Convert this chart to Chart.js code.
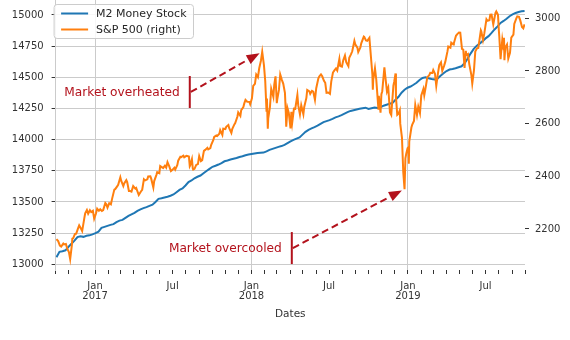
<!DOCTYPE html>
<html>
<head>
<meta charset="utf-8">
<script src="https://cdn.jsdelivr.net/npm/chart.js@4.4.0/dist/chart.umd.min.js"></script>
<style>
  body { margin: 0; background: #fff; }
</style>
</head>
<body>
<canvas id="m2Chart" width="570" height="340"></canvas>
<script>
// M2 money stock, weekly (billions of dollars), weeks starting 2016-10-03
var m2Start = '2016-10-03';
var m2Values = [
  13056, 13100, 13105, 13112, 13140, 13165, 13190, 13218, 13225, 13220,
  13228, 13232, 13240, 13250, 13262, 13292, 13300, 13308, 13316, 13322,
  13338, 13350, 13356, 13372, 13388, 13400, 13412, 13428, 13440, 13450,
  13458, 13468, 13478, 13500, 13525, 13530, 13536, 13542, 13550, 13560,
  13578, 13596, 13608, 13632, 13660, 13672, 13690, 13702, 13712, 13730,
  13748, 13765, 13782, 13790, 13800, 13812, 13826, 13832, 13840, 13846,
  13852, 13860, 13866, 13874, 13880, 13884, 13888, 13892, 13894, 13896,
  13906, 13918, 13926, 13934, 13942, 13948, 13958, 13972, 13986, 13998,
  14008, 14018, 14040, 14062, 14078, 14090, 14100, 14112, 14126, 14140,
  14148, 14156, 14166, 14178, 14186, 14196, 14208, 14220, 14230, 14236,
  14242, 14248, 14252, 14256, 14246, 14252, 14258, 14254, 14260, 14272,
  14280, 14288, 14294, 14320, 14344, 14376, 14400, 14416, 14426, 14440,
  14456, 14478, 14494, 14500, 14492, 14486, 14482, 14490, 14512, 14532,
  14550, 14562, 14566, 14572, 14580, 14588, 14612, 14648, 14690, 14726,
  14752, 14770, 14790, 14812, 14830, 14856, 14884, 14908, 14936, 14952,
  14970, 14990, 15004, 15016, 15024, 15030, 15032
];

// S&P 500 closes
var spDates = [
  '2016-10-03','2016-10-07','2016-10-11','2016-10-14','2016-10-19','2016-10-21','2016-10-25','2016-10-28',
  '2016-11-01','2016-11-04','2016-11-08','2016-11-09','2016-11-11','2016-11-15','2016-11-18','2016-11-23','2016-11-25','2016-11-30',
  '2016-12-02','2016-12-07','2016-12-09','2016-12-13','2016-12-16','2016-12-20','2016-12-23','2016-12-27','2016-12-30',
  '2017-01-03','2017-01-06','2017-01-10','2017-01-13','2017-01-17','2017-01-20','2017-01-25','2017-01-27','2017-01-30',
  '2017-02-03','2017-02-07','2017-02-10','2017-02-15','2017-02-17','2017-02-22','2017-02-24',
  '2017-03-01','2017-03-03','2017-03-08','2017-03-10','2017-03-15','2017-03-17','2017-03-21','2017-03-24','2017-03-27','2017-03-31',
  '2017-04-05','2017-04-07','2017-04-13','2017-04-18','2017-04-21','2017-04-25','2017-04-28',
  '2017-05-03','2017-05-05','2017-05-10','2017-05-12','2017-05-17','2017-05-19','2017-05-24','2017-05-26','2017-05-31',
  '2017-06-02','2017-06-07','2017-06-09','2017-06-13','2017-06-16','2017-06-19','2017-06-23','2017-06-27','2017-06-30',
  '2017-07-05','2017-07-07','2017-07-12','2017-07-14','2017-07-19','2017-07-21','2017-07-26','2017-07-28',
  '2017-08-02','2017-08-04','2017-08-08','2017-08-10','2017-08-11','2017-08-15','2017-08-17','2017-08-18','2017-08-21','2017-08-25','2017-08-29',
  '2017-09-01','2017-09-05','2017-09-08','2017-09-12','2017-09-15','2017-09-20','2017-09-22','2017-09-27','2017-09-29',
  '2017-10-04','2017-10-06','2017-10-11','2017-10-13','2017-10-18','2017-10-20','2017-10-25','2017-10-27',
  '2017-11-01','2017-11-03','2017-11-08','2017-11-10','2017-11-15','2017-11-17','2017-11-22','2017-11-24','2017-11-29',
  '2017-12-01','2017-12-06','2017-12-08','2017-12-13','2017-12-15','2017-12-18','2017-12-22','2017-12-27','2017-12-29',
  '2018-01-02','2018-01-05','2018-01-09','2018-01-12','2018-01-16','2018-01-19','2018-01-23','2018-01-26','2018-01-30',
  '2018-02-02','2018-02-05','2018-02-06','2018-02-08','2018-02-09','2018-02-13','2018-02-16','2018-02-21','2018-02-23','2018-02-26',
  '2018-03-01','2018-03-02','2018-03-06','2018-03-09','2018-03-13','2018-03-16','2018-03-20','2018-03-22','2018-03-23','2018-03-26','2018-03-29',
  '2018-04-02','2018-04-04','2018-04-06','2018-04-10','2018-04-13','2018-04-18','2018-04-20','2018-04-24','2018-04-27',
  '2018-05-02','2018-05-04','2018-05-09','2018-05-11','2018-05-16','2018-05-18','2018-05-22','2018-05-25','2018-05-29',
  '2018-06-01','2018-06-06','2018-06-08','2018-06-12','2018-06-15','2018-06-19','2018-06-22','2018-06-25','2018-06-29',
  '2018-07-03','2018-07-06','2018-07-10','2018-07-13','2018-07-17','2018-07-20','2018-07-25','2018-07-27','2018-07-31',
  '2018-08-03','2018-08-07','2018-08-10','2018-08-15','2018-08-17','2018-08-21','2018-08-24','2018-08-29','2018-08-31',
  '2018-09-05','2018-09-07','2018-09-12','2018-09-14','2018-09-20','2018-09-21','2018-09-25','2018-09-28',
  '2018-10-03','2018-10-05','2018-10-10','2018-10-11','2018-10-12','2018-10-16','2018-10-19','2018-10-24','2018-10-25','2018-10-29','2018-10-31',
  '2018-11-02','2018-11-07','2018-11-09','2018-11-13','2018-11-16','2018-11-20','2018-11-23','2018-11-28','2018-11-30',
  '2018-12-03','2018-12-04','2018-12-07','2018-12-10','2018-12-13','2018-12-14','2018-12-18','2018-12-21','2018-12-24','2018-12-26','2018-12-28','2018-12-31',
  '2019-01-02','2019-01-03','2019-01-04','2019-01-09','2019-01-11','2019-01-15','2019-01-18','2019-01-22','2019-01-25','2019-01-29',
  '2019-02-01','2019-02-06','2019-02-08','2019-02-12','2019-02-15','2019-02-20','2019-02-22','2019-02-27',
  '2019-03-01','2019-03-05','2019-03-08','2019-03-12','2019-03-15','2019-03-19','2019-03-22','2019-03-26','2019-03-29',
  '2019-04-03','2019-04-05','2019-04-10','2019-04-12','2019-04-17','2019-04-18','2019-04-23','2019-04-26','2019-04-30',
  '2019-05-03','2019-05-07','2019-05-10','2019-05-13','2019-05-16','2019-05-17','2019-05-21','2019-05-24','2019-05-29','2019-05-31',
  '2019-06-04','2019-06-07','2019-06-11','2019-06-14','2019-06-20','2019-06-21','2019-06-25','2019-06-28',
  '2019-07-03','2019-07-05','2019-07-10','2019-07-12','2019-07-15','2019-07-19','2019-07-24','2019-07-26','2019-07-30',
  '2019-08-01','2019-08-02','2019-08-05','2019-08-07','2019-08-09','2019-08-12','2019-08-13','2019-08-14','2019-08-16','2019-08-20','2019-08-23','2019-08-27','2019-08-30',
  '2019-09-04','2019-09-06','2019-09-11','2019-09-13','2019-09-17','2019-09-20','2019-09-24','2019-09-27','2019-09-30'
];
var spValues = [
  2161.20, 2153.74, 2136.73, 2132.98, 2144.29, 2141.16, 2143.16, 2126.41,
  2111.72, 2085.18, 2139.56, 2163.26, 2164.45, 2180.39, 2181.90, 2204.72, 2213.35, 2198.81,
  2191.95, 2241.35, 2259.53, 2271.72, 2258.07, 2270.76, 2263.79, 2268.88, 2238.83,
  2257.83, 2276.98, 2268.90, 2274.64, 2267.89, 2271.31, 2298.37, 2294.69, 2280.90,
  2297.42, 2293.08, 2316.10, 2349.25, 2351.16, 2362.82, 2367.34,
  2395.96, 2383.12, 2362.98, 2372.60, 2385.26, 2378.25, 2344.02, 2343.98, 2341.59, 2362.72,
  2352.95, 2355.54, 2328.95, 2342.19, 2348.69, 2388.61, 2384.20,
  2388.13, 2399.29, 2399.63, 2390.90, 2357.03, 2381.73, 2404.39, 2415.82, 2411.80,
  2439.07, 2433.14, 2431.77, 2440.35, 2433.15, 2453.46, 2438.30, 2419.38, 2423.41,
  2432.54, 2425.18, 2443.25, 2459.27, 2473.83, 2472.54, 2477.83, 2472.10,
  2477.57, 2476.83, 2474.92, 2438.21, 2441.32, 2464.61, 2430.01, 2425.55, 2428.37, 2443.05, 2446.30,
  2476.55, 2457.85, 2461.43, 2496.48, 2500.23, 2508.24, 2502.22, 2507.04, 2519.36,
  2537.74, 2549.33, 2555.24, 2553.17, 2561.26, 2575.21, 2557.15, 2581.07,
  2579.36, 2587.84, 2594.38, 2582.30, 2564.62, 2578.85, 2597.08, 2602.42, 2626.07,
  2642.22, 2629.27, 2651.50, 2662.85, 2675.81, 2690.16, 2683.34, 2682.62, 2673.61,
  2695.81, 2743.15, 2751.29, 2786.24, 2776.42, 2810.30, 2839.13, 2872.87, 2822.43,
  2762.13, 2648.94, 2695.14, 2581.00, 2619.55, 2662.94, 2732.22, 2701.33, 2747.30, 2779.60,
  2677.67, 2691.25, 2728.12, 2786.57, 2765.31, 2752.01, 2716.94, 2643.69, 2588.26, 2658.55, 2640.87,
  2581.88, 2644.69, 2604.47, 2656.87, 2656.30, 2708.64, 2670.14, 2634.56, 2669.91,
  2635.67, 2663.42, 2697.79, 2727.72, 2722.46, 2712.97, 2724.44, 2721.33, 2689.86,
  2734.62, 2772.35, 2779.03, 2786.85, 2779.66, 2762.59, 2754.88, 2717.07, 2718.37,
  2713.22, 2759.82, 2793.84, 2801.31, 2809.55, 2801.83, 2846.07, 2818.82, 2816.29,
  2840.35, 2858.45, 2833.28, 2818.37, 2850.13, 2862.96, 2874.69, 2914.04, 2901.52,
  2888.60, 2871.68, 2888.92, 2904.98, 2930.75, 2929.67, 2915.56, 2913.98,
  2925.51, 2885.57, 2785.68, 2728.37, 2767.13, 2809.92, 2767.78, 2656.10, 2705.57, 2641.25, 2711.74,
  2723.06, 2813.89, 2781.01, 2722.18, 2736.27, 2641.89, 2632.56, 2743.79, 2760.17,
  2790.37, 2700.06, 2633.08, 2637.72, 2650.54, 2599.95, 2546.16, 2416.62, 2351.10, 2467.70, 2485.74, 2506.85,
  2510.03, 2447.89, 2531.94, 2584.96, 2596.26, 2610.30, 2670.71, 2632.90, 2664.76, 2640.00,
  2706.53, 2731.61, 2707.88, 2744.73, 2775.60, 2784.70, 2792.67, 2792.38,
  2803.69, 2789.65, 2743.07, 2791.52, 2822.48, 2832.57, 2800.71, 2818.46, 2834.40,
  2873.40, 2892.74, 2888.21, 2907.41, 2900.45, 2905.03, 2933.68, 2939.88, 2945.83,
  2945.64, 2884.05, 2881.40, 2811.87, 2876.32, 2859.53, 2864.36, 2826.06, 2783.02, 2752.06,
  2803.27, 2873.34, 2885.72, 2886.98, 2954.18, 2950.46, 2917.38, 2941.76,
  2995.82, 2990.41, 2993.07, 3013.77, 3014.30, 2976.61, 3019.56, 3025.86, 3013.18,
  2953.56, 2932.05, 2844.74, 2883.98, 2918.65, 2882.70, 2926.32, 2840.60, 2888.68, 2900.51, 2847.11, 2869.16, 2926.46,
  2937.78, 2978.71, 3000.93, 3007.39, 3005.70, 2992.07, 2966.60, 2961.79, 2976.74
];

var leftTicks = [13000, 13250, 13500, 13750, 14000, 14250, 14500, 14750, 15000];
var rightTicks = [2200, 2400, 2600, 2800, 3000];
var xFirstMonth = '2016-10-01';
var xLastMonth = '2019-10-01';

// text callouts: text sits at (at, level) on the left axis, arrow points at an S&P close
var callouts = [
  { text: 'Market overheated', at: '2017-08-10', level: 14382, target: '2018-01-26' },
  { text: 'Market overcooled', at: '2018-04-05', level: 13130, target: '2018-12-24' }
];

var gridColor = '#cbcbcb';
var tickText = '#333333';
var calloutRed = '#b3121c';
var fontFamily = '"DejaVu Sans", sans-serif';

function toTime(s) {
  return Date.parse(s + 'T00:00:00Z');
}

var DAY = 24 * 3600 * 1000;
var m2Points = m2Values.map(function(v, i) {
  return { x: toTime(m2Start) + i * 7 * DAY, y: v };
});
var spPoints = spValues.map(function(v, i) {
  return { x: toTime(spDates[i]), y: v };
});

// one tick per month, labels only on Jan / Jul
var monthTicks = [];
(function() {
  var d = new Date(toTime(xFirstMonth));
  var end = toTime(xLastMonth);
  while (d.getTime() <= end) {
    monthTicks.push(d.getTime());
    d = new Date(Date.UTC(d.getUTCFullYear(), d.getUTCMonth() + 1, 1));
  }
})();

function noPadding(scale) {
  scale.paddingTop = 0;
  scale.paddingBottom = 0;
  scale.paddingLeft = 0;
  scale.paddingRight = 0;
}

var calloutPlugin = {
  id: 'callouts',
  afterDatasetsDraw: function(chart) {
    var ctx = chart.ctx;
    var xs = chart.scales.x, yl = chart.scales.y, yr = chart.scales.y1;
    ctx.save();
    callouts.forEach(function(c) {
      var bx = xs.getPixelForValue(toTime(c.at));
      var by = yl.getPixelForValue(c.level);
      var k = spDates.indexOf(c.target);
      var tx = xs.getPixelForValue(toTime(c.target));
      var ty = yr.getPixelForValue(spValues[k]);
      var dx = tx - bx, dy = ty - by;
      var len = Math.sqrt(dx * dx + dy * dy);
      var ux = dx / len, uy = dy / len;
      tx -= ux * 3;
      ty -= uy * 3;
      var hx = tx - ux * 13, hy = ty - uy * 13;

      ctx.strokeStyle = calloutRed;
      ctx.fillStyle = calloutRed;
      ctx.lineWidth = 2;
      ctx.lineCap = 'butt';

      ctx.setLineDash([]);
      ctx.beginPath();
      ctx.moveTo(bx, by - 16);
      ctx.lineTo(bx, by + 16);
      ctx.stroke();

      ctx.setLineDash([7, 4]);
      ctx.beginPath();
      ctx.moveTo(bx + 1, by);
      ctx.lineTo(hx, hy);
      ctx.stroke();

      ctx.setLineDash([]);
      ctx.beginPath();
      ctx.moveTo(tx, ty);
      ctx.lineTo(hx - uy * 5, hy + ux * 5);
      ctx.lineTo(hx + uy * 5, hy - ux * 5);
      ctx.closePath();
      ctx.fill();

      ctx.font = '12.2px ' + fontFamily;
      ctx.textAlign = 'right';
      ctx.textBaseline = 'middle';
      ctx.fillText(c.text, bx - 10, by + 1);
    });
    ctx.restore();
  }
};

// legend box in the upper left corner of the plot
var boxLegend = {
  id: 'boxLegend',
  afterDraw: function(chart) {
    var ctx = chart.ctx;
    var area = chart.chartArea;
    var sets = chart.data.datasets;
    ctx.save();
    ctx.font = '11px ' + fontFamily;
    var textW = 0;
    sets.forEach(function(ds) {
      textW = Math.max(textW, ctx.measureText(ds.label).width);
    });
    var x0 = area.left - 1.5, y0 = 4.5;
    var w = 42 + textW + 7, h = 34;
    ctx.beginPath();
    ctx.roundRect(x0, y0, w, h, 3);
    ctx.fillStyle = 'rgba(255,255,255,0.85)';
    ctx.fill();
    ctx.strokeStyle = '#cccccc';
    ctx.lineWidth = 1;
    ctx.stroke();
    sets.forEach(function(ds, i) {
      var ly = y0 + 9 + i * 16;
      ctx.strokeStyle = ds.borderColor;
      ctx.lineWidth = 2;
      ctx.beginPath();
      ctx.moveTo(x0 + 7, ly);
      ctx.lineTo(x0 + 34, ly);
      ctx.stroke();
      ctx.fillStyle = '#262626';
      ctx.textAlign = 'left';
      ctx.textBaseline = 'middle';
      ctx.fillText(ds.label, x0 + 42, ly + 0.5);
    });
    ctx.restore();
  }
};

var ctx = document.getElementById('m2Chart').getContext('2d');
var m2Chart = new Chart(ctx, {
  type: 'line',
  data: {
    datasets: [
      {
        label: 'M2 Money Stock',
        data: m2Points,
        yAxisID: 'y',
        borderColor: '#1f77b4',
        borderWidth: 2,
        pointRadius: 0,
        tension: 0,
        order: 1
      },
      {
        label: 'S&P 500 (right)',
        data: spPoints,
        yAxisID: 'y1',
        borderColor: '#ff7f0e',
        borderWidth: 2,
        pointRadius: 0,
        tension: 0,
        order: 0
      }
    ]
  },
  options: {
    responsive: false,
    animation: false,
    devicePixelRatio: 1,
    layout: { padding: 0 },
    plugins: {
      legend: { display: false },
      tooltip: { enabled: false }
    },
    scales: {
      x: {
        type: 'linear',
        min: toTime(xFirstMonth),
        max: toTime(xLastMonth),
        afterBuildTicks: function(scale) {
          scale.ticks = monthTicks.map(function(t) { return { value: t }; });
        },
        afterFit: function(scale) {
          scale.height = 70;
          noPadding(scale);
        },
        ticks: {
          autoSkip: false,
          maxRotation: 0,
          minRotation: 0,
          padding: 7,
          color: tickText,
          font: { family: fontFamily, size: 10, lineHeight: 1.05 },
          callback: function(value) {
            var d = new Date(value);
            var m = d.getUTCMonth();
            if (m === 0) return ['Jan', String(d.getUTCFullYear())];
            if (m === 6) return 'Jul';
            return '';
          }
        },
        grid: {
          color: function(c) {
            if (c.tick && new Date(c.tick.value).getUTCMonth() === 0) return gridColor;
            return 'rgba(0,0,0,0)';
          },
          tickColor: tickText,
          tickLength: 4,
          lineWidth: 1
        },
        border: { display: false },
        title: {
          display: true,
          text: 'Dates',
          color: tickText,
          font: { family: fontFamily, size: 10.5 },
          padding: { top: 0, bottom: 19 }
        }
      },
      y: {
        position: 'left',
        min: 12954,
        max: 15120,
        afterBuildTicks: function(scale) {
          scale.ticks = leftTicks.map(function(v) { return { value: v }; });
        },
        afterFit: function(scale) {
          scale.width = 55.6;
          noPadding(scale);
        },
        ticks: {
          padding: 8,
          color: tickText,
          font: { family: fontFamily, size: 10 },
          callback: function(v) { return String(v); }
        },
        grid: { color: gridColor, tickColor: tickText, tickLength: 4, lineWidth: 1 },
        border: { display: true, color: gridColor, width: 1 }
      },
      y1: {
        position: 'right',
        min: 2044,
        max: 3069.5,
        afterBuildTicks: function(scale) {
          scale.ticks = rightTicks.map(function(v) { return { value: v }; });
        },
        afterFit: function(scale) {
          scale.width = 45;
          noPadding(scale);
        },
        ticks: {
          padding: 6,
          color: tickText,
          font: { family: fontFamily, size: 10 },
          callback: function(v) { return String(v); }
        },
        grid: { drawOnChartArea: false, tickColor: tickText, tickLength: 4 },
        border: { display: false }
      }
    }
  },
  plugins: [calloutPlugin, boxLegend]
});
</script>
</body>
</html>
